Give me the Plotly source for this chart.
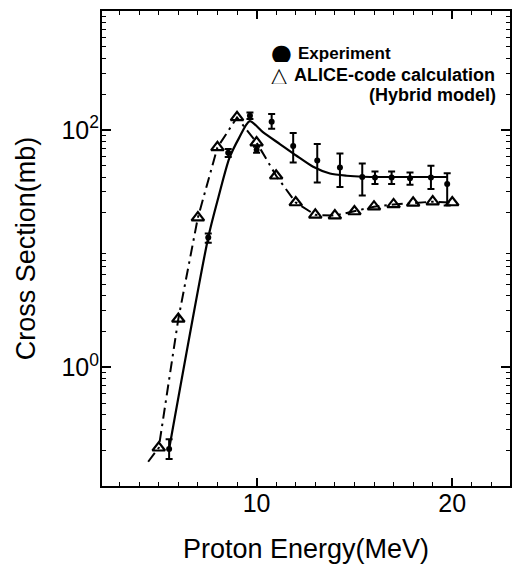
import plotly.graph_objects as go

# ---------------- data ----------------
# Experiment (filled circles with error bars)
exp_energy = [5.53, 7.53, 8.55, 9.66, 10.0, 10.77, 11.87, 13.1, 14.26, 15.4, 16.05, 16.9, 17.84, 18.91, 19.74]
exp_xs = [0.205, 12.4, 64, 131, 68, 117, 73, 55, 48, 40, 39.7, 39.7, 39, 39.7, 35]
exp_err_plus = [0.043, 1.0, 5, 9, 4, 19, 21, 21, 15, 12, 4.8, 4.8, 4.7, 10, 8]
exp_err_minus = [0.036, 1.2, 5, 8, 4, 15, 20, 19, 15, 12, 4.7, 4.7, 4.6, 8, 12]

# ALICE-code calculation (Hybrid model), open triangles
calc_energy = [5, 6, 7, 8, 9, 10, 11, 12, 13, 14, 15, 16, 17, 18, 19, 20]
calc_xs = [0.21, 2.55, 18.2, 71, 127, 78, 41, 24.4, 19.2, 18.9, 20.5, 22.5, 23.5, 24.2, 24.8, 24.4]

# dash-dot curve through the calculation (starts a little below 5 MeV)
calc_line_energy = [4.46] + calc_energy
calc_line_xs = [0.16] + calc_xs

# solid curve drawn through the experimental data
fit_energy = [5.53, 7.53, 8.05, 8.6, 9.1, 9.65, 10.34, 11.19, 12.04, 12.89, 13.75, 14.6, 15.45, 16.5, 17.5, 18.5, 19.74]
fit_xs = [0.205, 12.4, 27, 57, 85, 118, 95, 75.8, 60.4, 48.8, 42.8, 41, 40.2, 40, 40, 40, 40]

# axis ticks
x_major = [10, 20]
x_minor = list(range(3, 23))
y_major = [1, 100]
y_major_text = ["10<sup>0</sup>", "10<sup>2</sup>"]
y_unlabelled_major = [10]
y_minor = [m * 10.0 ** e for e in range(-1, 3) for m in range(2, 10)]

FONT = "Liberation Sans, Arial, Helvetica, sans-serif"

# plot-area geometry in pixels (used only to place the text legend)
L, R, T, B = 102, 510, 11, 486


def px(xp):
    return (xp - L) / (R - L)


def py(yp):
    return (B - yp) / (B - T)


fig = go.Figure()

fig.add_trace(go.Scatter(
    x=calc_line_energy, y=calc_line_xs, mode="lines",
    line=dict(color="black", width=2, dash="11px,5px,2.5px,5px"),
    showlegend=False, hoverinfo="skip"))

fig.add_trace(go.Scatter(
    x=fit_energy, y=fit_xs, mode="lines",
    line=dict(color="black", width=2.2, shape="spline", smoothing=0.7),
    showlegend=False, hoverinfo="skip"))

fig.add_trace(go.Scatter(
    x=calc_energy, y=calc_xs, mode="markers",
    marker=dict(symbol="triangle-up-open", size=11, color="black", line=dict(width=2.2, color="black")),
    showlegend=False))

fig.add_trace(go.Scatter(
    x=exp_energy, y=exp_xs, mode="markers",
    marker=dict(symbol="circle", size=6, color="black"),
    error_y=dict(type="data", symmetric=False, array=exp_err_plus, arrayminus=exp_err_minus,
                 color="black", thickness=2, width=3.5),
    showlegend=False))

# legend written as text
fig.add_annotation(x=px(281.7), y=py(53.5), xref="paper", yref="paper", height=18,
                   text="●", showarrow=False, xanchor="center", yanchor="middle",
                   font=dict(family="DejaVu Sans", size=24, color="black"))
fig.add_annotation(x=px(296), y=py(53), xref="paper", yref="paper",
                   text="<b>Experiment</b>", showarrow=False, xanchor="left", yanchor="middle",
                   font=dict(family=FONT, size=17, color="black"))
fig.add_annotation(x=px(279.5), y=py(75), xref="paper", yref="paper", height=18,
                   text="△", showarrow=False, xanchor="center", yanchor="middle",
                   font=dict(family="DejaVu Sans", size=21, color="black"))
fig.add_annotation(x=px(292), y=py(75), xref="paper", yref="paper",
                   text="<b>ALICE-code calculation</b>", showarrow=False, xanchor="left", yanchor="middle",
                   font=dict(family=FONT, size=18, color="black"))
fig.add_annotation(x=px(498), y=py(95.5), xref="paper", yref="paper",
                   text="<b>(Hybrid model)</b>", showarrow=False, xanchor="right", yanchor="middle",
                   font=dict(family=FONT, size=18, color="black"))

axis_common = dict(showline=True, linecolor="black", linewidth=2, mirror="ticks",
                   ticks="inside", tickcolor="black", tickwidth=1.6,
                   showgrid=False, zeroline=False, automargin=False,
                   tickfont=dict(family=FONT, size=25, color="black"))

fig.update_xaxes(range=[2.1, 22.95], tickmode="array", tickvals=x_major, ticklen=8,
                 ticklabelstandoff=-6,
                 minor=dict(tickmode="array", tickvals=x_minor, ticklen=4, tickwidth=1.4,
                            tickcolor="black", ticks="inside"),
                 title=dict(text="Proton Energy(MeV)", font=dict(family=FONT, size=27, color="black"),
                            standoff=28),
                 **axis_common)
fig.update_yaxes(type="log", range=[-1, 3], tickmode="array", tickvals=y_major,
                 ticktext=y_major_text, ticklen=9, ticklabelstandoff=-4,
                 minor=dict(tickmode="array", tickvals=y_minor, ticklen=4, tickwidth=1.4,
                            tickcolor="black", ticks="inside"),
                 title=dict(text="Cross Section(mb)", font=dict(family=FONT, size=27, color="black"),
                            standoff=18),
                 **axis_common)

# second (overlaid) y axis only to draw the long, unlabelled tick at 10^1
fig.update_layout(yaxis2=dict(type="log", range=[-1, 3], overlaying="y", anchor="x", side="left",
                              tickmode="array", tickvals=y_unlabelled_major, ticks="inside",
                              ticklen=9, tickwidth=1.6, tickcolor="black", mirror="ticks",
                              showline=False, showticklabels=False, showgrid=False,
                              zeroline=False, automargin=False))

fig.update_layout(width=515, height=564, margin=dict(l=L, r=515 - R, t=T, b=564 - B),
                  paper_bgcolor="white", plot_bgcolor="white", showlegend=False)

fig.write_html("out.html", config={"displayModeBar": False},
               post_script="document.body.style.margin='0px';document.body.style.padding='0px';")
